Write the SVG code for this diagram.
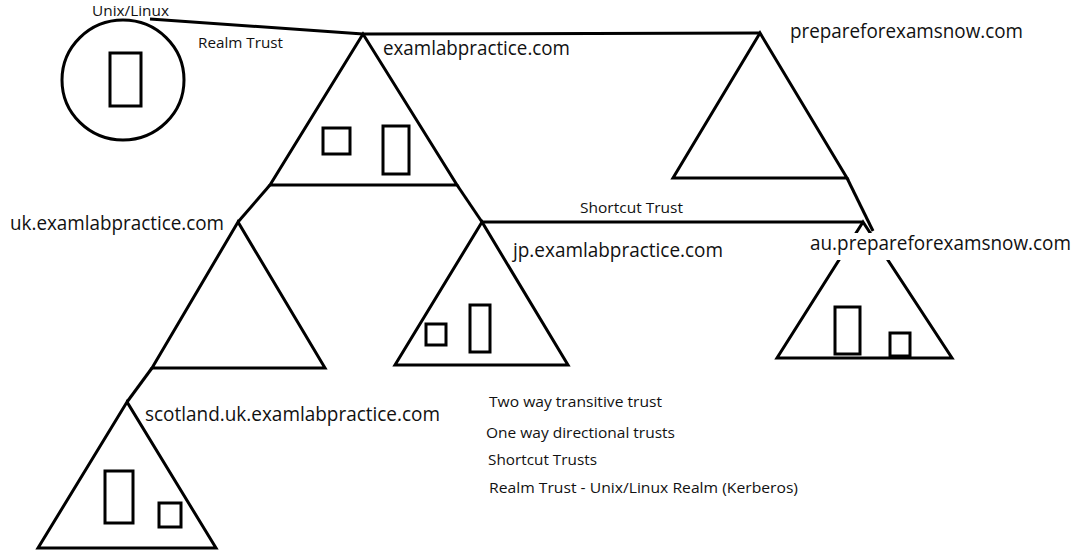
<svg xmlns="http://www.w3.org/2000/svg" width="1077" height="554" viewBox="0 0 1077 554">
<style>
.s{fill:none;stroke:#000;stroke-width:3;stroke-linejoin:miter}
.b{fill:none;stroke:#000;stroke-width:3}
.t{font-family:"Open Sans","Liberation Sans",sans-serif;fill:#111}
.big{font-size:19.5px}
.sm{font-size:15px}
</style>
<rect width="1077" height="554" fill="#fff"/>
<g id="connectors">
<polyline class="b" points="150,19 363,34 760,33"/>
<line class="b" x1="457" y1="185" x2="482" y2="222"/>
<line class="b" x1="270" y1="185" x2="238" y2="222"/>
<line class="b" x1="152" y1="368" x2="127" y2="402"/>
<line class="b" x1="482" y1="222" x2="862" y2="222"/>
<line class="b" x1="847" y1="178" x2="873" y2="231"/>
<text class="t sm" x="580" y="213" textLength="103" lengthAdjust="spacingAndGlyphs">Shortcut Trust</text>
<text class="t sm" x="198" y="48" textLength="85" lengthAdjust="spacingAndGlyphs">Realm Trust</text>
</g>
<g id="unix">
<ellipse class="s" cx="123" cy="80" rx="61" ry="60"/>
<rect class="s" x="110" y="53" width="31" height="53"/>
<text class="t sm" x="92" y="16" textLength="77" lengthAdjust="spacingAndGlyphs">Unix/Linux</text>
</g>
<g id="examlabpractice">
<polygon class="s" points="363,34 270,185 457,185"/>
<rect class="s" x="323" y="128" width="27" height="26"/>
<rect class="s" x="383" y="126" width="26" height="48"/>
<text class="t big" x="383" y="55" textLength="187" lengthAdjust="spacingAndGlyphs">examlabpractice.com</text>
</g>
<g id="prepareforexamsnow">
<polygon class="s" points="760,33 673,178 847,178"/>
<text class="t big" x="790" y="38" textLength="233" lengthAdjust="spacingAndGlyphs">prepareforexamsnow.com</text>
</g>
<g id="uk">
<polygon class="s" points="238,222 152,368 325,368"/>
<text class="t big" x="10" y="230" textLength="214" lengthAdjust="spacingAndGlyphs">uk.examlabpractice.com</text>
</g>
<g id="jp">
<polygon class="s" points="482,222 395,365 568,365"/>
<rect class="s" x="426" y="324" width="20" height="21"/>
<rect class="s" x="470" y="305" width="20" height="47"/>
<text class="t big" x="513" y="257" textLength="210" lengthAdjust="spacingAndGlyphs">jp.examlabpractice.com</text>
</g>
<g id="au">
<polygon class="s" points="863,222 777,358 952,358"/>
<rect class="s" x="835" y="307" width="25" height="47"/>
<rect class="s" x="890" y="333" width="20" height="23"/>
<rect x="806" y="233" width="268" height="27" fill="#fff"/>
<text class="t big" x="810" y="250" textLength="261" lengthAdjust="spacingAndGlyphs">au.prepareforexamsnow.com</text>
</g>
<g id="scotland">
<polygon class="s" points="127,402 38,548 216,548"/>
<rect class="s" x="105" y="471" width="28" height="52"/>
<rect class="s" x="159" y="503" width="22" height="24"/>
<text class="t big" x="145" y="421" textLength="295" lengthAdjust="spacingAndGlyphs">scotland.uk.examlabpractice.com</text>
</g>
<g id="notes">
<text class="t sm" x="489" y="407" textLength="173" lengthAdjust="spacingAndGlyphs">Two way transitive trust</text>
<text class="t sm" x="486" y="438" textLength="189" lengthAdjust="spacingAndGlyphs">One way directional trusts</text>
<text class="t sm" x="488" y="465" textLength="109" lengthAdjust="spacingAndGlyphs">Shortcut Trusts</text>
<text class="t sm" x="489" y="493" textLength="309" lengthAdjust="spacingAndGlyphs">Realm Trust - Unix/Linux Realm (Kerberos)</text>
</g>
</svg>
